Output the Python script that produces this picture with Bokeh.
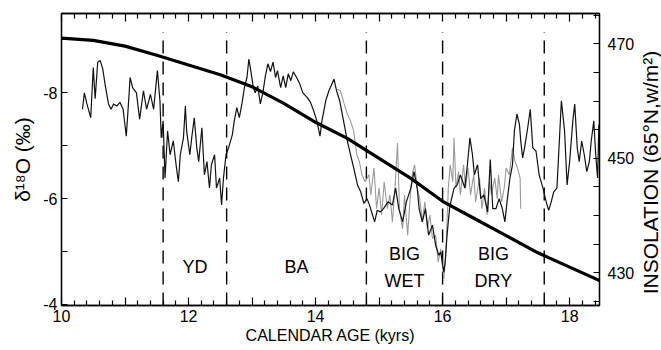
import numpy as np
from bokeh.plotting import figure
from bokeh.models import Range1d, LinearAxis, FixedTicker, Label
from bokeh.core.properties import value
from bokeh.embed import file_html
from bokeh.resources import INLINE

# ---- data ----
d18o_age = [10.33, 10.36, 10.40, 10.46, 10.50, 10.53, 10.57, 10.61, 10.65, 10.69, 10.74, 10.78, 10.82, 10.87,
            10.92, 10.97, 11.02, 11.05, 11.08, 11.12, 11.18, 11.23, 11.29, 11.34, 11.40, 11.45, 11.51, 11.55,
            11.57, 11.60, 11.63, 11.67, 11.71, 11.76, 11.81, 11.84, 11.87, 11.92, 11.95, 11.97, 12.02, 12.05,
            12.09, 12.13, 12.16, 12.21, 12.25, 12.29, 12.33, 12.36, 12.41, 12.44, 12.49, 12.52, 12.55, 12.59,
            12.63, 12.69, 12.72, 12.76, 12.80, 12.84, 12.88, 12.92, 12.95, 12.98, 13.02, 13.05, 13.09, 13.13,
            13.17, 13.21, 13.25, 13.29, 13.33, 13.37, 13.40, 13.45, 13.49, 13.53, 13.57, 13.61, 13.65, 13.71,
            13.75, 13.80, 13.87, 13.92, 13.97, 14.02, 14.07, 14.10, 14.16, 14.21, 14.25, 14.29, 14.33, 14.38,
            14.44, 14.50, 14.55, 14.60, 14.66, 14.71, 14.76, 14.81, 14.84, 14.89, 14.93, 14.97, 15.02, 15.07,
            15.14, 15.21, 15.26, 15.31, 15.37, 15.43, 15.50, 15.55, 15.60, 15.63, 15.68, 15.73, 15.78, 15.84,
            15.89, 15.94, 15.97, 16.02, 16.04, 16.07, 16.11, 16.13, 16.18, 16.23, 16.28, 16.35, 16.39, 16.43,
            16.47, 16.50, 16.55, 16.60, 16.65, 16.71, 16.75, 16.79, 16.84, 16.89, 16.94, 16.98, 17.02, 17.06,
            17.10, 17.13, 17.17, 17.21, 17.23, 17.26, 17.29, 17.34, 17.38, 17.42, 17.47, 17.52, 17.58, 17.63,
            17.67, 17.71, 17.75, 17.80, 17.87, 17.92, 17.96, 18.00, 18.05, 18.08, 18.12, 18.15, 18.19, 18.23,
            18.27, 18.31, 18.34, 18.38, 18.41, 18.44, 18.46, 18.47]
d18o_val = [-7.69, -8.00, -7.79, -7.53, -8.48, -7.89, -8.58, -8.61, -8.45, -8.13, -7.79, -7.69, -7.79, -7.75,
            -7.82, -7.69, -7.18, -7.72, -8.29, -8.10, -8.00, -7.50, -8.04, -7.69, -7.97, -7.69, -8.42, -7.85,
            -7.15, -7.47, -6.39, -7.28, -6.83, -7.09, -6.58, -6.32, -6.83, -7.15, -7.75, -7.28, -6.83, -7.15,
            -7.53, -6.96, -6.70, -7.34, -6.45, -6.70, -6.20, -6.64, -6.83, -6.20, -6.39, -5.88, -6.39, -6.83,
            -6.96, -7.21, -7.47, -7.72, -7.53, -7.79, -8.10, -8.29, -8.64, -8.42, -8.10, -8.00, -8.13, -7.79,
            -8.00, -8.32, -8.55, -8.40, -8.58, -8.29, -8.42, -8.10, -8.32, -8.10, -8.36, -8.23, -8.40, -8.27,
            -8.17, -8.00, -7.91, -7.82, -7.66, -7.47, -7.18, -7.47, -7.85, -8.04, -8.15, -8.26, -8.04, -7.85,
            -7.47, -7.09, -6.83, -6.58, -6.26, -6.13, -5.91, -6.00, -5.91, -5.72, -5.56, -5.78, -5.75, -5.81,
            -5.94, -5.88, -6.20, -5.81, -5.56, -5.94, -6.20, -6.51, -6.20, -5.81, -5.56, -5.81, -5.31, -5.50,
            -5.12, -4.93, -4.99, -4.61, -4.80, -5.31, -5.82, -5.94, -6.20, -6.26, -6.45, -6.20, -6.64, -7.15,
            -6.83, -6.45, -6.64, -6.00, -6.07, -5.75, -6.74, -5.81, -5.81, -6.00, -5.81, -5.56, -6.00, -6.39,
            -6.64, -7.28, -7.60, -7.40, -7.09, -6.77, -6.96, -7.34, -7.69, -6.96, -6.90, -6.45, -6.20, -5.94,
            -5.78, -5.94, -6.13, -6.20, -7.85, -7.28, -6.26, -6.70, -7.47, -7.79, -6.96, -6.70, -7.09, -6.83,
            -6.51, -6.70, -7.09, -7.47, -6.83, -6.39, -7.40, -7.09]

gray_age = [14.34, 14.39, 14.45, 14.50, 14.55, 14.60, 14.65, 14.69, 14.73, 14.78, 14.84, 14.87, 14.92, 14.96,
            15.00, 15.04, 15.08, 15.13, 15.17, 15.21, 15.25, 15.29, 15.32, 15.37, 15.40, 15.45, 15.50, 15.53,
            15.56, 15.60, 15.64, 15.68, 15.72, 15.76, 15.80, 15.84, 15.89, 15.93, 15.97, 16.02, 16.05, 16.09,
            16.12, 16.16, 16.18, 16.21, 16.25, 16.28, 16.33, 16.36, 16.40, 16.44, 16.49, 16.52, 16.58, 16.62,
            16.66, 16.70, 16.74, 16.77, 16.82, 16.86, 16.88, 16.93, 16.97, 17.00, 17.05, 17.10, 17.14, 17.18,
            17.22, 17.23]
gray_val = [-8.07, -8.04, -7.79, -7.60, -7.47, -7.28, -6.83, -6.70, -6.45, -6.32, -6.45, -6.07, -6.58, -5.81,
            -6.20, -5.69, -6.32, -5.81, -6.07, -5.56, -6.20, -7.05, -5.81, -5.43, -6.07, -5.31, -6.20, -6.51,
            -6.64, -6.20, -6.00, -5.56, -5.94, -5.43, -5.69, -5.25, -5.31, -4.80, -5.05, -4.48, -4.93, -6.20,
            -6.64, -6.32, -7.15, -6.20, -6.51, -6.07, -6.64, -6.20, -6.58, -6.07, -6.45, -5.94, -6.39, -5.81,
            -6.20, -5.69, -6.32, -6.07, -6.39, -6.00, -6.45, -5.94, -6.20, -6.58, -6.45, -6.96, -6.70, -6.58,
            -6.39, -5.81]

insol_age = [10.0, 10.5, 11.0, 11.5, 12.0, 12.5, 13.0, 13.5, 14.0, 14.5, 15.0, 15.5, 16.0, 16.5, 17.0, 17.5, 18.0, 18.5]
insol_val = [471.0, 470.6, 469.6, 468.0, 466.3, 464.6, 462.5, 459.6, 456.3, 453.5, 450.0, 446.5, 442.5, 439.5,
             436.5, 433.5, 431.0, 428.5]

boundaries = [11.6, 12.6, 14.8, 16.0, 17.6]
event_labels = ["YD", "BA", "BIG\nWET", "BIG\nDRY"]

x_ticks = [10, 11, 12, 13, 14, 15, 16, 17, 18]
y_ticks = [-8, -6, -4]
insol_ticks = [430, 450, 470]

# ---- figure ----
FONT = "Liberation Sans"
p = figure(width=661, height=346, output_backend="svg", toolbar_location=None,
           x_range=Range1d(10, 18.47), y_range=Range1d(-3.98, -9.5),
           min_border_left=61, min_border_right=62, min_border_top=13, min_border_bottom=30,
           x_axis_location=None, y_axis_location=None)
p.extra_y_ranges = {"insol": Range1d(424.3, 475.3)}
p.grid.visible = False
p.outline_line_color = "black"
p.outline_line_width = 1.3
p.background_fill_color = "white"
p.border_fill_color = "white"

minor_x = [round(v, 1) for v in np.arange(10.2, 18.5, 0.2) if abs(v - round(v)) > 1e-6]


def style(ax, labels=True):
    ax.axis_line_color = "black"
    ax.axis_line_width = 1.3
    ax.major_tick_in = 8
    ax.major_tick_out = 0
    ax.minor_tick_in = 5
    ax.minor_tick_out = 0
    ax.major_tick_line_color = "black"
    ax.minor_tick_line_color = "black"
    ax.major_tick_line_width = 1.2
    ax.minor_tick_line_width = 1.2
    ax.major_label_text_font = FONT
    ax.major_label_text_font_size = "16px" if labels else "0px"
    ax.major_label_text_color = "black"
    ax.axis_label_text_font = FONT
    ax.axis_label_text_font_size = "16px"
    ax.axis_label_text_font_style = "normal"
    ax.axis_label_text_color = "black"


xb = LinearAxis(ticker=FixedTicker(ticks=x_ticks, minor_ticks=minor_x),
                axis_label="CALENDAR AGE (kyrs)")
style(xb)
xb.major_label_overrides = {t: ("" if t % 2 else str(t)) for t in x_ticks}
xb.major_label_standoff = 4
xb.axis_label_standoff = 2
p.add_layout(xb, "below")

xt = LinearAxis(ticker=FixedTicker(ticks=x_ticks, minor_ticks=minor_x))
style(xt, labels=False)
xt.major_label_overrides = {t: "" for t in x_ticks}
xt.major_label_standoff = 0
p.add_layout(xt, "above")

yl = LinearAxis(ticker=FixedTicker(ticks=y_ticks, minor_ticks=[-9, -7, -5]),
                axis_label="δ¹⁸O (‰)")
style(yl)
yl.major_tick_in = 6
yl.minor_tick_in = 6
yl.major_label_overrides = {t: str(t) for t in y_ticks}
yl.major_label_standoff = 4
yl.axis_label_standoff = 6
yl.axis_label_text_font_size = "21px"
p.add_layout(yl, "left")

yr = LinearAxis(y_range_name="insol",
                ticker=FixedTicker(ticks=insol_ticks, minor_ticks=[425, 435, 440, 445, 455, 460, 465, 475]))
style(yr)
yr.major_tick_in = 6
yr.minor_tick_in = 6
yr.major_label_standoff = 8
p.add_layout(yr, "right")

# right-hand axis title, reading bottom-to-top, in its own side panel beyond the tick labels
p.add_layout(Label(x=13, y=133, x_units="screen", y_units="screen", angle=np.pi / 2,
                   text="INSOLATION (65°N,w/m²)", text_font=FONT, text_font_size="21px",
                   text_align="center", text_baseline="middle", text_color="black"), "right")

# dashed event boundaries
p.segment(x0=boundaries, y0=[-3.98] * len(boundaries), x1=boundaries, y1=[-9.15] * len(boundaries),
          line_color="black", line_width=1.4, line_dash="13 8")

# event labels at the middle of each interval
mids = [(a + b) / 2 for a, b in zip(boundaries[:-1], boundaries[1:])]
p.text(x=mids, y=[-4.7] * len(mids), text=event_labels, text_font=value(FONT), text_font_size="18px",
       text_align="center", text_baseline="middle", text_line_height=1.33, text_color="black")

# records
p.line(gray_age, gray_val, line_color="#9a9a9a", line_width=1.1)
p.line(d18o_age, d18o_val, line_color="#111111", line_width=1.2)
p.line(insol_age, insol_val, y_range_name="insol", line_color="black", line_width=3.2)

open("out.html", "w").write(file_html(p, INLINE))
